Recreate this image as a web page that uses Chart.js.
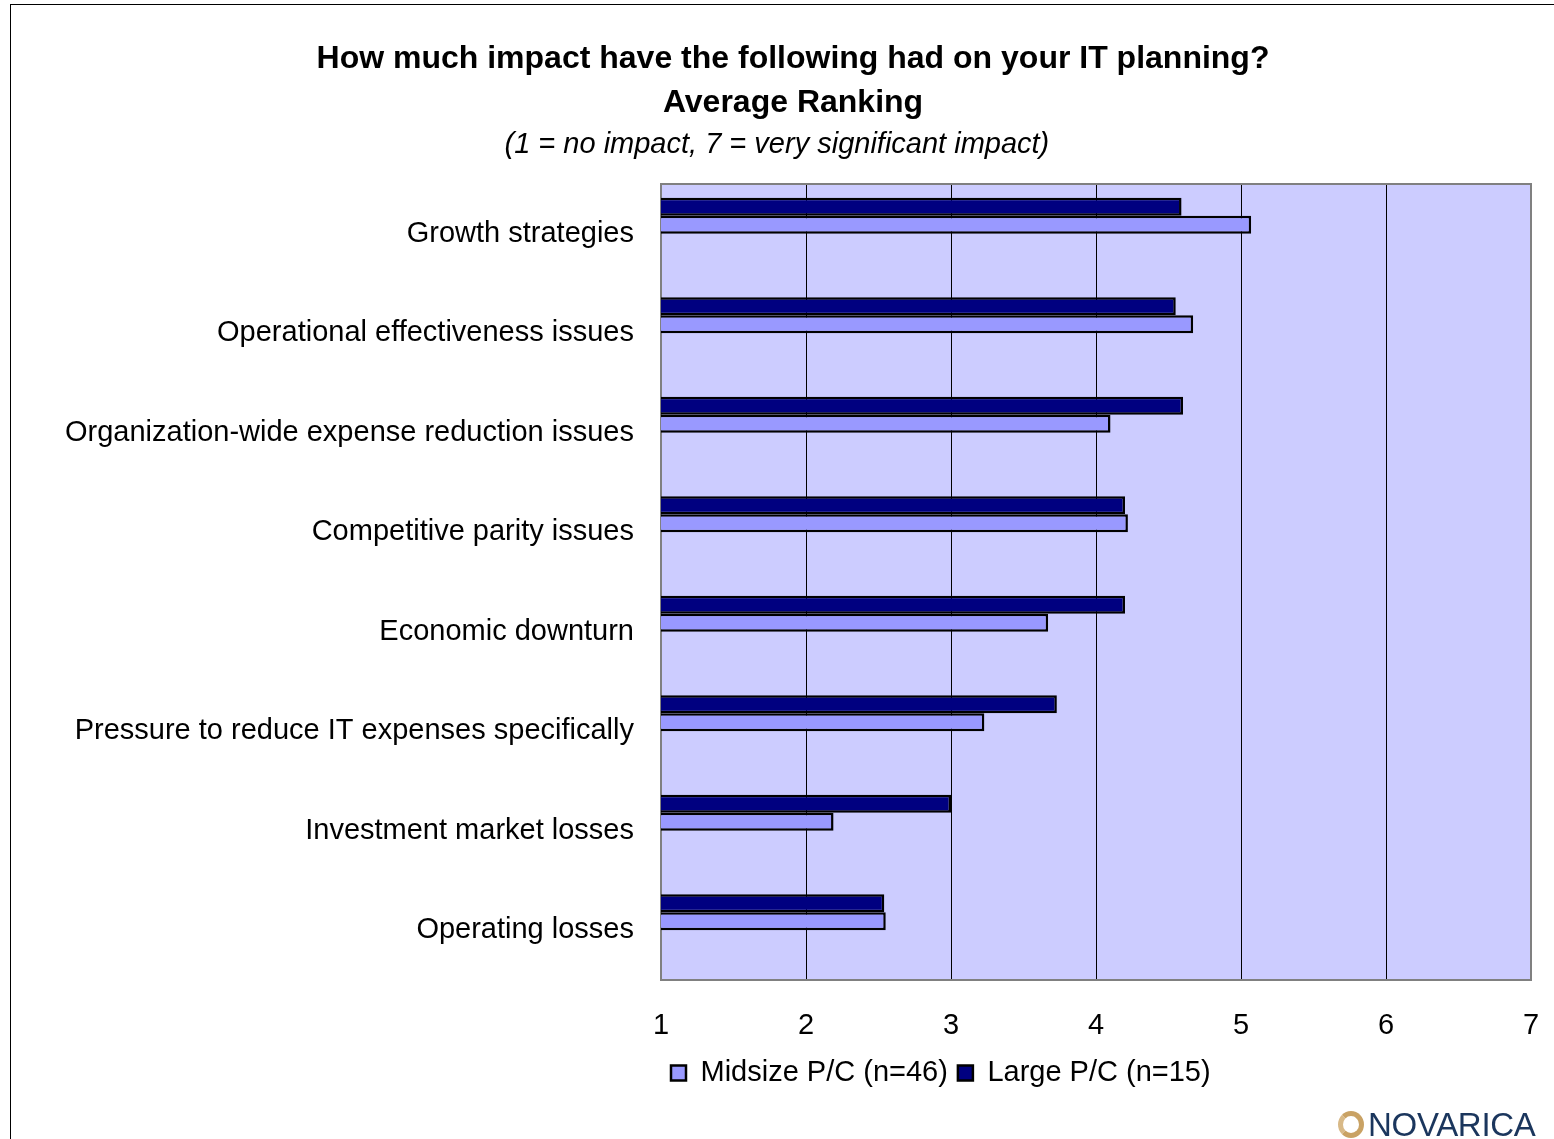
<!DOCTYPE html>
<html>
<head>
<meta charset="utf-8">
<script src="https://cdn.jsdelivr.net/npm/chart.js@4"></script>
<style>
    html, body { margin: 0; padding: 0; background: #ffffff; overflow: hidden; }
    body { width: 1554px; height: 1139px; position: relative; }
    .frame { position: absolute; left: 10px; top: 4px; width: 2000px; height: 2000px; border: 1.5px solid #000; box-sizing: border-box; }
    .chart-box { position: absolute; left: 0; top: 0; width: 1585px; height: 1139px; }
    .logo { position: absolute; left: 1338px; top: 1108px; font-family: 'Liberation Sans', Arial, sans-serif; }
    .logo-ring { position: absolute; left: 0; top: 3px; width: 26px; height: 27px; border: 5px solid #c9a264; border-left-color: #d8b987; border-radius: 50%; box-sizing: border-box; }
    .logo-text { position: absolute; left: 30px; top: 0; font-size: 33px; line-height: 33px; color: #1b365d; letter-spacing: -0.3px; white-space: nowrap; }
</style>
</head>
<body>
<div class="frame"></div>
<div class="chart-box"><canvas id="impactChart"></canvas></div>
<div class="logo"><div class="logo-ring"></div><div class="logo-text">NOVARICA</div></div>
<script>
const categories = [
    'Growth strategies',
    'Operational effectiveness issues',
    'Organization-wide expense reduction issues',
    'Competitive parity issues',
    'Economic downturn',
    'Pressure to reduce IT expenses specifically',
    'Investment market losses',
    'Operating losses'
];
const largeValues = [4.59, 4.55, 4.60, 4.20, 4.20, 3.73, 3.00, 2.54];
const midsizeValues = [5.07, 4.67, 4.10, 4.22, 3.67, 3.23, 2.19, 2.55];
const seriesNames = ['Large P/C (n=15)', 'Midsize P/C (n=46)'];
const tickValues = [1, 2, 3, 4, 5, 6, 7];

document.addEventListener('DOMContentLoaded', function () {
    const canvas = document.getElementById('impactChart');

    Chart.defaults.font.family = "'Liberation Sans', Arial, sans-serif";
    Chart.defaults.color = '#000000';

    // plot area fill and grey frame, like the Excel original
    const plotFrame = {
        id: 'plotFrame',
        beforeDraw(chart) {
            const a = chart.chartArea;
            const ctx = chart.ctx;
            ctx.save();
            ctx.fillStyle = '#ccccff';
            ctx.fillRect(a.left, a.top, a.right - a.left, a.bottom - a.top);
            ctx.restore();
        },
        beforeDatasetsDraw(chart) {
            const a = chart.chartArea;
            const ctx = chart.ctx;
            ctx.save();
            ctx.strokeStyle = '#808080';
            ctx.lineWidth = 2;
            ctx.strokeRect(a.left, a.top, a.right - a.left, a.bottom - a.top);
            ctx.restore();
        }
    };

    const barStyle = {
        borderColor: '#000000',
        borderWidth: 2.5,
        borderSkipped: false,
        barPercentage: 1,
        categoryPercentage: 0.7236
    };

    new Chart(canvas, {
        type: 'bar',
        data: {
            labels: categories,
            datasets: [
                Object.assign({ label: seriesNames[0], data: largeValues, backgroundColor: '#000080' }, barStyle),
                Object.assign({ label: seriesNames[1], data: midsizeValues, backgroundColor: '#9999ff' }, barStyle),
                // two empty series in the source workbook keep their slots
                Object.assign({ label: '', data: [], backgroundColor: 'transparent' }, barStyle),
                Object.assign({ label: '', data: [], backgroundColor: 'transparent' }, barStyle)
            ]
        },
        options: {
            indexAxis: 'y',
            responsive: true,
            maintainAspectRatio: false,
            animation: false,
            layout: {
                padding: { top: 0, right: 54, bottom: 41.5, left: 55 }
            },
            scales: {
                x: {
                    min: 1,
                    max: 7,
                    afterBuildTicks: function (scale) {
                        scale.ticks = tickValues.map(v => ({ value: v }));
                    },
                    afterFit: function (scale) {
                        scale.height = 68.5;
                    },
                    ticks: {
                        padding: 29,
                        color: '#000000',
                        font: { size: 29 }
                    },
                    grid: {
                        color: '#000000',
                        lineWidth: 1,
                        drawTicks: false
                    },
                    border: { display: false }
                },
                y: {
                    afterFit: function (scale) {
                        scale.width = 606;
                    },
                    ticks: {
                        padding: 27,
                        color: '#000000',
                        font: { size: 29 }
                    },
                    grid: { display: false, drawTicks: false },
                    border: { display: false }
                }
            },
            plugins: {
                title: {
                    display: true,
                    text: ['How much impact have the following had on your IT planning?', 'Average Ranking'],
                    color: '#000000',
                    font: { size: 32, weight: 'bold', lineHeight: 1.375 },
                    padding: { top: 37, bottom: 2.6 }
                },
                subtitle: {
                    display: true,
                    text: '(1 = no impact, 7 = very significant impact)\u00a0\u00a0\u00a0\u00a0',
                    color: '#000000',
                    font: { size: 29, style: 'italic', lineHeight: 1.2 },
                    padding: { top: 0, bottom: 21.6 }
                },
                legend: {
                    position: 'bottom',
                    align: 'start',
                    fullSize: false,
                    reverse: true,
                    labels: {
                        filter: item => item.text !== '',
                        boxWidth: 15,
                        boxHeight: 15,
                        padding: 10,
                        color: '#000000',
                        font: { size: 29 }
                    }
                },
                tooltip: { enabled: false }
            }
        },
        plugins: [plotFrame]
    });
});
</script>
</body>
</html>
